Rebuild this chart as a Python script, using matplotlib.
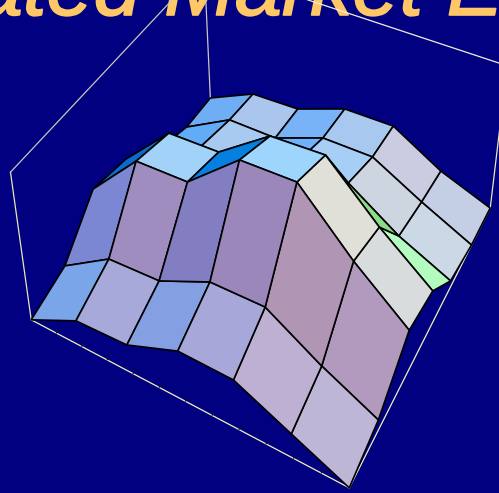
import numpy as np
import matplotlib
matplotlib.use("Agg")
import matplotlib.pyplot as plt
import matplotlib.patheffects as pe
from matplotlib.colors import to_rgba

W, H = 499, 493
NAVY = "#000080"
GOLD = "#FFC766"

TITLE = "Simulated Market E"

# grid lines of the surface, in box units
x_grid = [0, 0.1624, 0.3252, 0.4889, 0.6551, 0.8252, 1]
y_grid = [0, 0.1729, 0.3439, 0.51, 0.6754, 0.8474, 1]

# heights, one row per y_grid value
z_row0 = [0.067, 0.214, 0.193, 0.311, 0.269, 0.043, -0.188]
z_row1 = [0.147, 0.338, 0.325, 0.464, 0.441, 0.179, -0.053]
z_row2 = [0.41, 0.721, 0.708, 0.97, 0.96, 0.591, 0.266]
z_row3 = [0.36, 0.656, 0.648, 0.869, 0.87, 0.532, 0.232]
z_row4 = [0.175, 0.322, 0.313, 0.45, 0.429, 0.186, -0.001]
z_row5 = [0.093, 0.259, 0.242, 0.359, 0.345, 0.149, -0.034]
z_row6 = [0.095, 0.233, 0.233, 0.345, 0.338, 0.135, -0.009]

# cell colours, one row per strip between y_grid values
cells0 = ["#7AA5E8", "#A6A9DA", "#84A0E2", "#A7A8D9", "#BDB0D2", "#BDB6D6"]
cells1 = ["#7C87D3", "#A08DBF", "#837EC1", "#9C87BB", "#B195B5", "#B29ABE"]
cells2 = ["#0A6AD0", "#A2D2F7", "#0580E0", "#9DD5FC", "#E0E0D8", "#D8DCDC"]
cells3 = ["#1F5FB0", "#2F7FB8", "#2F7FB8", "#3F9F90", "#8BDD8A", "#B2FCC0"]
cells4 = ["#62ABF6", "#A8CAF0", "#6FB2FA", "#A7CFF6", "#CDD6E0", "#CBD8E6"]
cells5 = ["#6FADF5", "#AAC5EE", "#78B3F8", "#A9C8F0", "#CACDE2", "#C4CEE4"]

tick_fractions = [k / 12 for k in range(1, 12)]


def plot_surface():
    fig = plt.figure(figsize=(W / 100, H / 100), dpi=100, facecolor=NAVY)
    fig.text(-236 / W, 1 - 15 / H, TITLE, fontsize=61, style="italic", family="Liberation Sans",
             color=GOLD, va="baseline", zorder=-1,
             path_effects=[pe.withStroke(linewidth=1.2, foreground=GOLD)])

    side = 537.16
    ax = fig.add_axes([(264.74 - side / 2) / W, (H - 203.27 - side / 2) / H, side / W, side / H], projection="3d")
    ax.computed_zorder = False
    ax.patch.set_visible(False)
    ax.view_init(elev=45.48, azim=-63.02)
    ax.set_proj_type("persp", focal_length=0.4354)

    X, Y = np.meshgrid(x_grid, y_grid)
    Z = np.array([z_row0, z_row1, z_row2, z_row3, z_row4, z_row5, z_row6])
    colors = np.array([[to_rgba(c) for c in row] for row in [cells0, cells1, cells2, cells3, cells4, cells5]])
    surf = ax.plot_surface(X, Y, Z, facecolors=colors, rstride=1, cstride=1, shade=False,
                           edgecolor="black", linewidth=1.2, antialiased=True, zorder=2)
    surf.set_clip_on(False)

    # the box, only the edges that show
    left, front, right, back = (0, 0, 0.067), (1, 0, -0.188), (1, 1, -0.009), (0, 1, 0.095)
    top_left, top_back, top_right = (-0.002, 0.039, 1), (0, 1, 1), (0.985, 0.968, 1)
    for a, b, col in [(left, front, "#F0F0C0"), (front, right, "#F0F0C0"), (left, top_left, "#E8E8B8"),
                      (top_left, top_back, "#C8C8C0"), (top_back, back, "#C8C8C0"),
                      (top_back, top_right, "#F0F0E0"), (right, top_right, "#E8E8B8")]:
        ax.plot(*zip(a, b), color=col, lw=0.9, zorder=1, clip_on=False)

    # little ticks along the front edge
    for f in tick_fractions:
        z = left[2] + f * (front[2] - left[2])
        ax.plot([f, f], [0.001, 0.011], [z, z], color="#101030", lw=0.9, zorder=1.5, clip_on=False)

    ax.set_xlim(0, 1)
    ax.set_ylim(0, 1)
    ax.set_zlim(0, 1)
    ax.set_box_aspect((1, 1.0528, 0.59))
    ax.set_axis_off()
    fig.savefig("out.png", dpi=100, facecolor=NAVY)


if __name__ == "__main__":
    plot_surface()
